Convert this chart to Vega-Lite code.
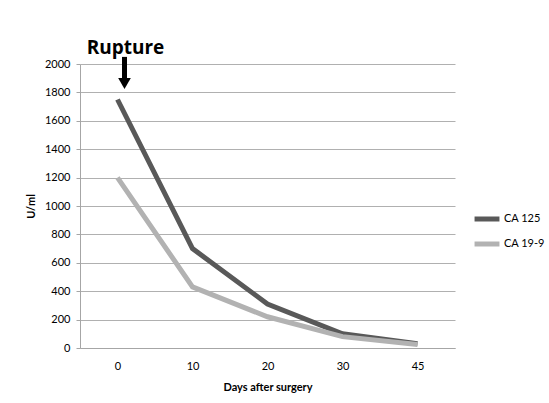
{
  "$schema": "https://vega.github.io/schema/vega-lite/v6.json",
  "autosize": {"type": "none"},
  "padding": {"left": 80, "top": 64, "right": 94, "bottom": 55},
  "width": 375,
  "height": 284,
  "config": {
    "font": "Lato",
    "view": {"stroke": null},
    "axis": {"labelFont": "Lato", "titleFont": "Lato", "labelColor": "#000", "titleColor": "#000", "labelFontSize": 11, "titleFontSize": 11, "titleFontWeight": "bold"},
    "axisY": {"labelOverlap": false, "format": "d", "labelFlush": false, "grid": true, "gridColor": "#b0b0b0", "domainColor": "#a6a6a6", "tickColor": "#a6a6a6", "tickSize": 4, "labelPadding": 6, "titlePadding": 8},
    "axisX": {"labelAngle": 0, "domainColor": "#a6a6a6", "ticks": false, "labelPadding": 12, "titlePadding": 10, "grid": false}
  },
  "datasets": {
    "series": [
      {"day": "0", "marker": "CA 125", "value": 1750},
      {"day": "10", "marker": "CA 125", "value": 700},
      {"day": "20", "marker": "CA 125", "value": 310},
      {"day": "30", "marker": "CA 125", "value": 100},
      {"day": "45", "marker": "CA 125", "value": 30},
      {"day": "0", "marker": "CA 19-9", "value": 1200},
      {"day": "10", "marker": "CA 19-9", "value": 430},
      {"day": "20", "marker": "CA 19-9", "value": 220},
      {"day": "30", "marker": "CA 19-9", "value": 80},
      {"day": "45", "marker": "CA 19-9", "value": 25}
    ],
    "note": [
      {"day": "0", "label": "Rupture", "textY": 2113, "top": 2050, "bottom": 1880, "tip": 1862}
    ]
  },
  "layer": [
    {
      "data": {"name": "series"},
      "mark": {"type": "line", "strokeWidth": 5, "strokeCap": "butt"},
      "encoding": {
        "x": {"field": "day", "type": "ordinal", "sort": ["0", "10", "20", "30", "45"], "title": "Days after surgery",
              "scale": {"type": "point", "padding": 0.5}},
        "y": {"field": "value", "type": "quantitative", "title": "U/ml",
              "scale": {"domain": [0, 2000], "nice": false},
              "axis": {"values": [0, 200, 400, 600, 800, 1000, 1200, 1400, 1600, 1800, 2000], "tickCount": 20}},
        "color": {"field": "marker", "type": "nominal", "title": null,
                  "scale": {"domain": ["CA 125", "CA 19-9"], "range": ["#595959", "#b2b2b2"]},
                  "legend": {"orient": "none", "legendX": 392, "legendY": 140, "symbolType": "stroke", "symbolStrokeWidth": 5, "symbolSize": 620, "labelFontSize": 11, "labelFont": "Lato", "labelColor": "#000", "rowPadding": -2, "labelOffset": 2}}
      }
    },
    {
      "data": {"name": "note"},
      "mark": {"type": "text", "fontSize": 19, "fontWeight": "bold", "font": "Open Sans", "clip": false, "color": "#000", "dx": 8},
      "encoding": {
        "x": {"field": "day", "type": "ordinal", "title": "Days after surgery"},
        "y": {"field": "textY", "type": "quantitative", "title": "U/ml"},
        "text": {"field": "label"}
      }
    },
    {
      "data": {"name": "note"},
      "mark": {"type": "rule", "strokeWidth": 5, "color": "#000", "xOffset": 7},
      "encoding": {
        "x": {"field": "day", "type": "ordinal", "title": "Days after surgery"},
        "y": {"field": "top", "type": "quantitative", "title": "U/ml"},
        "y2": {"field": "bottom"}
      }
    },
    {
      "data": {"name": "note"},
      "mark": {"type": "point", "shape": "triangle-down", "filled": true, "size": 160, "color": "#000", "opacity": 1, "xOffset": 7},
      "encoding": {
        "x": {"field": "day", "type": "ordinal", "title": "Days after surgery"},
        "y": {"field": "tip", "type": "quantitative", "title": "U/ml"}
      }
    }
  ]
}
